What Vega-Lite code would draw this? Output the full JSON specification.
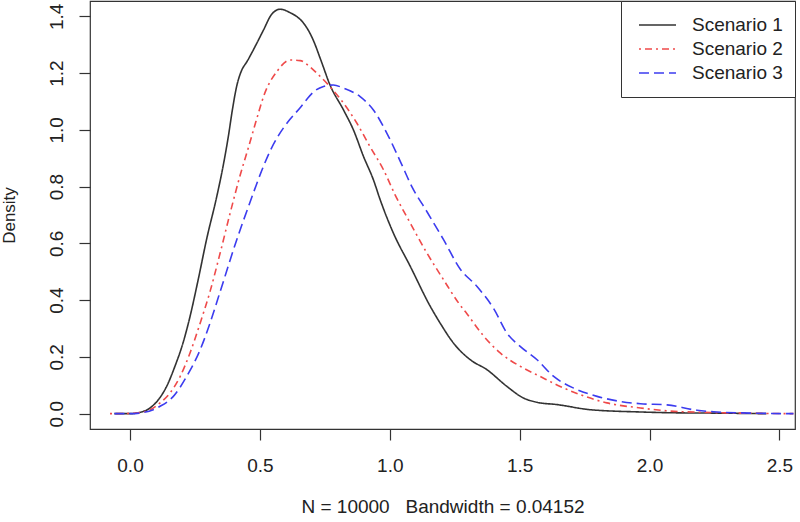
{
  "$schema": "https://vega.github.io/schema/vega-lite/v6.json",
  "width": 705,
  "height": 428,
  "autosize": {"type": "none"},
  "padding": {"left": 90, "top": 1, "right": 5, "bottom": 93},
  "background": "white",
  "config": {
    "view": {"stroke": "#333333", "strokeWidth": 1.2},
    "font": "Liberation Sans",
    "axis": {
      "grid": false,
      "domain": false,
      "tickColor": "#333333",
      "tickWidth": 1.2,
      "tickSize": 11,
      "labelFont": "Liberation Sans",
      "labelFontSize": 19,
      "labelColor": "#222222",
      "titleFont": "Liberation Sans",
      "titleFontWeight": "normal",
      "titleColor": "#222222"
    }
  },
  "data": {
    "values": [
      {"scenario": "Scenario 1", "x": -0.06, "density": 0.0},
      {"scenario": "Scenario 1", "x": 0.0, "density": 0.0},
      {"scenario": "Scenario 1", "x": 0.04, "density": 0.005},
      {"scenario": "Scenario 1", "x": 0.077, "density": 0.02},
      {"scenario": "Scenario 1", "x": 0.109, "density": 0.049},
      {"scenario": "Scenario 1", "x": 0.141, "density": 0.096},
      {"scenario": "Scenario 1", "x": 0.173, "density": 0.167},
      {"scenario": "Scenario 1", "x": 0.205, "density": 0.252},
      {"scenario": "Scenario 1", "x": 0.231, "density": 0.342},
      {"scenario": "Scenario 1", "x": 0.262, "density": 0.47},
      {"scenario": "Scenario 1", "x": 0.295, "density": 0.615},
      {"scenario": "Scenario 1", "x": 0.334, "density": 0.765},
      {"scenario": "Scenario 1", "x": 0.359, "density": 0.875},
      {"scenario": "Scenario 1", "x": 0.38, "density": 0.985},
      {"scenario": "Scenario 1", "x": 0.394, "density": 1.07},
      {"scenario": "Scenario 1", "x": 0.411, "density": 1.155},
      {"scenario": "Scenario 1", "x": 0.43, "density": 1.21},
      {"scenario": "Scenario 1", "x": 0.45, "density": 1.24},
      {"scenario": "Scenario 1", "x": 0.488, "density": 1.305},
      {"scenario": "Scenario 1", "x": 0.514, "density": 1.352},
      {"scenario": "Scenario 1", "x": 0.546, "density": 1.408},
      {"scenario": "Scenario 1", "x": 0.578, "density": 1.425},
      {"scenario": "Scenario 1", "x": 0.616, "density": 1.413},
      {"scenario": "Scenario 1", "x": 0.668, "density": 1.376},
      {"scenario": "Scenario 1", "x": 0.693, "density": 1.34},
      {"scenario": "Scenario 1", "x": 0.705, "density": 1.317},
      {"scenario": "Scenario 1", "x": 0.735, "density": 1.245},
      {"scenario": "Scenario 1", "x": 0.77, "density": 1.158},
      {"scenario": "Scenario 1", "x": 0.822, "density": 1.07},
      {"scenario": "Scenario 1", "x": 0.86, "density": 1.0},
      {"scenario": "Scenario 1", "x": 0.899, "density": 0.906},
      {"scenario": "Scenario 1", "x": 0.937, "density": 0.824},
      {"scenario": "Scenario 1", "x": 0.963, "density": 0.754},
      {"scenario": "Scenario 1", "x": 1.014, "density": 0.636},
      {"scenario": "Scenario 1", "x": 1.079, "density": 0.519},
      {"scenario": "Scenario 1", "x": 1.156, "density": 0.378},
      {"scenario": "Scenario 1", "x": 1.194, "density": 0.319},
      {"scenario": "Scenario 1", "x": 1.245, "density": 0.249},
      {"scenario": "Scenario 1", "x": 1.31, "density": 0.19},
      {"scenario": "Scenario 1", "x": 1.374, "density": 0.155},
      {"scenario": "Scenario 1", "x": 1.451, "density": 0.096},
      {"scenario": "Scenario 1", "x": 1.515, "density": 0.055},
      {"scenario": "Scenario 1", "x": 1.567, "density": 0.04},
      {"scenario": "Scenario 1", "x": 1.644, "density": 0.032},
      {"scenario": "Scenario 1", "x": 1.772, "density": 0.014},
      {"scenario": "Scenario 1", "x": 1.965, "density": 0.006},
      {"scenario": "Scenario 1", "x": 2.1, "density": 0.003},
      {"scenario": "Scenario 1", "x": 2.25, "density": 0.002},
      {"scenario": "Scenario 1", "x": 2.45, "density": 0.0},

      {"scenario": "Scenario 2", "x": -0.077, "density": 0.0},
      {"scenario": "Scenario 2", "x": 0.0, "density": 0.001},
      {"scenario": "Scenario 2", "x": 0.05, "density": 0.006},
      {"scenario": "Scenario 2", "x": 0.08, "density": 0.015},
      {"scenario": "Scenario 2", "x": 0.116, "density": 0.038},
      {"scenario": "Scenario 2", "x": 0.154, "density": 0.073},
      {"scenario": "Scenario 2", "x": 0.193, "density": 0.131},
      {"scenario": "Scenario 2", "x": 0.231, "density": 0.214},
      {"scenario": "Scenario 2", "x": 0.27, "density": 0.319},
      {"scenario": "Scenario 2", "x": 0.308, "density": 0.43},
      {"scenario": "Scenario 2", "x": 0.347, "density": 0.566},
      {"scenario": "Scenario 2", "x": 0.385, "density": 0.705},
      {"scenario": "Scenario 2", "x": 0.424, "density": 0.84},
      {"scenario": "Scenario 2", "x": 0.455, "density": 0.935},
      {"scenario": "Scenario 2", "x": 0.485, "density": 1.03},
      {"scenario": "Scenario 2", "x": 0.52, "density": 1.132},
      {"scenario": "Scenario 2", "x": 0.565, "density": 1.205},
      {"scenario": "Scenario 2", "x": 0.616, "density": 1.246},
      {"scenario": "Scenario 2", "x": 0.655, "density": 1.244},
      {"scenario": "Scenario 2", "x": 0.693, "density": 1.222},
      {"scenario": "Scenario 2", "x": 0.719, "density": 1.2},
      {"scenario": "Scenario 2", "x": 0.77, "density": 1.152},
      {"scenario": "Scenario 2", "x": 0.822, "density": 1.094},
      {"scenario": "Scenario 2", "x": 0.873, "density": 1.024},
      {"scenario": "Scenario 2", "x": 0.924, "density": 0.941},
      {"scenario": "Scenario 2", "x": 0.976, "density": 0.859},
      {"scenario": "Scenario 2", "x": 1.02, "density": 0.772},
      {"scenario": "Scenario 2", "x": 1.079, "density": 0.671},
      {"scenario": "Scenario 2", "x": 1.143, "density": 0.566},
      {"scenario": "Scenario 2", "x": 1.207, "density": 0.472},
      {"scenario": "Scenario 2", "x": 1.265, "density": 0.39},
      {"scenario": "Scenario 2", "x": 1.297, "density": 0.352},
      {"scenario": "Scenario 2", "x": 1.361, "density": 0.274},
      {"scenario": "Scenario 2", "x": 1.425, "density": 0.214},
      {"scenario": "Scenario 2", "x": 1.502, "density": 0.167},
      {"scenario": "Scenario 2", "x": 1.579, "density": 0.131},
      {"scenario": "Scenario 2", "x": 1.656, "density": 0.096},
      {"scenario": "Scenario 2", "x": 1.733, "density": 0.067},
      {"scenario": "Scenario 2", "x": 1.836, "density": 0.038},
      {"scenario": "Scenario 2", "x": 1.965, "density": 0.02},
      {"scenario": "Scenario 2", "x": 2.067, "density": 0.01},
      {"scenario": "Scenario 2", "x": 2.196, "density": 0.005},
      {"scenario": "Scenario 2", "x": 2.35, "density": 0.002},
      {"scenario": "Scenario 2", "x": 2.554, "density": 0.0},

      {"scenario": "Scenario 3", "x": -0.06, "density": 0.0},
      {"scenario": "Scenario 3", "x": 0.0, "density": 0.0},
      {"scenario": "Scenario 3", "x": 0.05, "density": 0.004},
      {"scenario": "Scenario 3", "x": 0.116, "density": 0.026},
      {"scenario": "Scenario 3", "x": 0.167, "density": 0.061},
      {"scenario": "Scenario 3", "x": 0.218, "density": 0.131},
      {"scenario": "Scenario 3", "x": 0.27, "density": 0.225},
      {"scenario": "Scenario 3", "x": 0.308, "density": 0.319},
      {"scenario": "Scenario 3", "x": 0.347, "density": 0.43},
      {"scenario": "Scenario 3", "x": 0.411, "density": 0.613},
      {"scenario": "Scenario 3", "x": 0.462, "density": 0.745},
      {"scenario": "Scenario 3", "x": 0.513, "density": 0.87},
      {"scenario": "Scenario 3", "x": 0.539, "density": 0.925},
      {"scenario": "Scenario 3", "x": 0.565, "density": 0.97},
      {"scenario": "Scenario 3", "x": 0.591, "density": 1.007},
      {"scenario": "Scenario 3", "x": 0.616, "density": 1.037},
      {"scenario": "Scenario 3", "x": 0.655, "density": 1.078},
      {"scenario": "Scenario 3", "x": 0.681, "density": 1.108},
      {"scenario": "Scenario 3", "x": 0.706, "density": 1.133},
      {"scenario": "Scenario 3", "x": 0.745, "density": 1.153},
      {"scenario": "Scenario 3", "x": 0.783, "density": 1.158},
      {"scenario": "Scenario 3", "x": 0.822, "density": 1.147},
      {"scenario": "Scenario 3", "x": 0.886, "density": 1.117},
      {"scenario": "Scenario 3", "x": 0.937, "density": 1.07},
      {"scenario": "Scenario 3", "x": 0.989, "density": 0.988},
      {"scenario": "Scenario 3", "x": 1.04, "density": 0.89},
      {"scenario": "Scenario 3", "x": 1.085, "density": 0.8},
      {"scenario": "Scenario 3", "x": 1.143, "density": 0.712},
      {"scenario": "Scenario 3", "x": 1.207, "density": 0.613},
      {"scenario": "Scenario 3", "x": 1.271, "density": 0.51},
      {"scenario": "Scenario 3", "x": 1.336, "density": 0.448},
      {"scenario": "Scenario 3", "x": 1.4, "density": 0.37},
      {"scenario": "Scenario 3", "x": 1.451, "density": 0.284},
      {"scenario": "Scenario 3", "x": 1.502, "density": 0.237},
      {"scenario": "Scenario 3", "x": 1.567, "density": 0.19},
      {"scenario": "Scenario 3", "x": 1.631, "density": 0.131},
      {"scenario": "Scenario 3", "x": 1.708, "density": 0.09},
      {"scenario": "Scenario 3", "x": 1.798, "density": 0.061},
      {"scenario": "Scenario 3", "x": 1.888, "density": 0.043},
      {"scenario": "Scenario 3", "x": 1.965, "density": 0.035},
      {"scenario": "Scenario 3", "x": 2.067, "density": 0.031},
      {"scenario": "Scenario 3", "x": 2.183, "density": 0.012},
      {"scenario": "Scenario 3", "x": 2.26, "density": 0.006},
      {"scenario": "Scenario 3", "x": 2.388, "density": 0.002},
      {"scenario": "Scenario 3", "x": 2.554, "density": 0.0}
    ]
  },
  "mark": {"type": "line", "strokeWidth": 1.6, "interpolate": "monotone", "clip": true},
  "encoding": {
    "x": {
      "field": "x",
      "type": "quantitative",
      "scale": {"domain": [-0.154, 2.56], "nice": false, "zero": false},
      "axis": {
        "values": [0, 0.5, 1, 1.5, 2, 2.5],
        "format": ".1f",
        "labelPadding": 16,
        "title": "N = 10000\u00a0\u00a0 Bandwidth = 0.04152",
        "titleFontSize": 19,
        "titlePadding": 22
      }
    },
    "y": {
      "field": "density",
      "type": "quantitative",
      "scale": {"domain": [-0.054, 1.454], "nice": false, "zero": false},
      "axis": {
        "values": [0, 0.2, 0.4, 0.6, 0.8, 1.0, 1.2, 1.4],
        "format": ".1f",
        "labelAngle": -90,
        "labelAlign": "center",
        "labelBaseline": "bottom",
        "labelPadding": 13,
        "title": "Density",
        "titleFontSize": 17,
        "titlePadding": 29
      }
    },
    "color": {
      "field": "scenario",
      "type": "nominal",
      "scale": {"domain": ["Scenario 1", "Scenario 2", "Scenario 3"], "range": ["#333333", "#ef4a4a", "#3c3cef"]},
      "legend": {
        "title": null,
        "orient": "top-right",
        "offset": 0,
        "strokeColor": "#333333",
        "fillColor": "white",
        "padding": 12,
        "symbolType": "stroke",
        "symbolSize": 1369,
        "symbolStrokeWidth": 1.6,
        "symbolOffset": 5,
        "labelFontSize": 19,
        "labelFont": "Liberation Sans",
        "labelColor": "#222222",
        "labelOffset": 15,
        "clipHeight": 24,
        "rowPadding": 0
      }
    },
    "strokeDash": {
      "field": "scenario",
      "type": "nominal",
      "scale": {"domain": ["Scenario 1", "Scenario 2", "Scenario 3"], "range": [[1, 0], [2, 4, 7, 4], [10, 5]]},
      "legend": null
    }
  }
}
